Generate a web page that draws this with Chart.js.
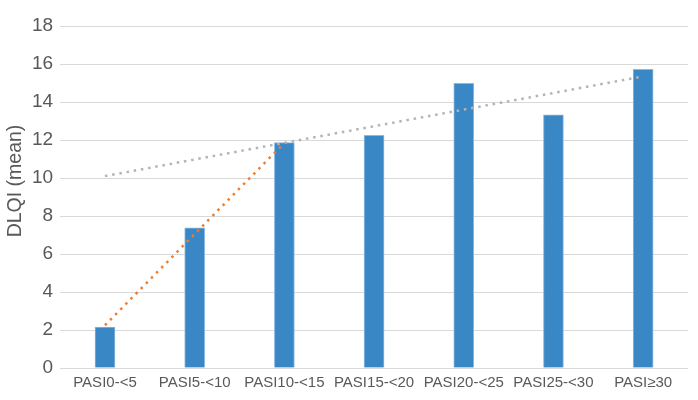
<!DOCTYPE html>
<html>
<head>
<meta charset="utf-8">
<script src="https://cdn.jsdelivr.net/npm/chart.js@4.4.0/dist/chart.umd.min.js"></script>
<style>
  html, body { margin: 0; padding: 0; background: #fff; }
  #wrap { width: 698px; height: 400px; }
</style>
</head>
<body>
<div id="wrap"><canvas id="chart" width="698" height="400"></canvas></div>
<script>
// values
const categories = ['PASI0-<5', 'PASI5-<10', 'PASI10-<15', 'PASI15-<20', 'PASI20-<25', 'PASI25-<30', 'PASI\u226530'];
const dlqiMean = [2.15, 7.38, 11.86, 12.25, 14.98, 13.32, 15.72];
// trend lines: only end points, gaps spanned
const trendLow = [2.25, null, 11.85, null, null, null, null];
const trendAll = [10.1, null, null, null, null, null, 15.35];
const yTicks = [0, 2, 4, 6, 8, 10, 12, 14, 16, 18];
const yTitle = 'DLQI (mean)';

const textColor = '#595959';
const gridColor = '#D9D9D9';

// y title sits a bit above the plot centre in the original, so draw it by hand
const yTitlePlugin = {
    id: 'yTitle',
    afterDraw(chart) {
        const ctx = chart.ctx;
        ctx.save();
        ctx.translate(15.5, 181);
        ctx.rotate(-Math.PI / 2);
        ctx.font = '19.5px "Liberation Sans"';
        ctx.fillStyle = textColor;
        ctx.textAlign = 'center';
        ctx.textBaseline = 'middle';
        ctx.fillText(yTitle, 0, 0);
        ctx.restore();
    }
};

new Chart(document.getElementById('chart').getContext('2d'), {
    type: 'bar',
    data: {
        labels: categories,
        datasets: [
            {
                type: 'line',
                data: trendLow,
                borderColor: '#ED7D31',
                borderWidth: 2.5,
                borderDash: [2.5, 4.8],
                pointRadius: 0,
                spanGaps: true,
                fill: false,
                order: 1
            },
            {
                type: 'line',
                data: trendAll,
                borderColor: '#B4B4B4',
                borderWidth: 2.5,
                borderDash: [2.5, 4.8],
                pointRadius: 0,
                spanGaps: true,
                fill: false,
                order: 1
            },
            {
                label: yTitle,
                data: dlqiMean,
                backgroundColor: '#3A87C5',
                borderColor: '#8DB9E1',
                borderWidth: 1,
                barThickness: 20,
                order: 2
            }
        ]
    },
    options: {
        responsive: false,
        animation: false,
        layout: { padding: { top: 26, right: 10, left: 25, bottom: 2 } },
        plugins: {
            legend: { display: false },
            tooltip: { enabled: false }
        },
        scales: {
            x: {
                grid: { display: false, drawTicks: false },
                border: { display: false },
                ticks: {
                    color: textColor,
                    font: { family: 'Liberation Sans', size: 15 },
                    maxRotation: 0,
                    autoSkip: false,
                    padding: 6
                }
            },
            y: {
                min: 0,
                max: 18,
                afterBuildTicks: axis => { axis.ticks = yTicks.map(v => ({ value: v })); },
                grid: { color: gridColor, lineWidth: 1, drawTicks: false },
                border: { display: false },
                ticks: {
                    color: textColor,
                    font: { family: 'Liberation Sans', size: 19 },
                    padding: 7
                }
            }
        }
    },
    plugins: [yTitlePlugin]
});
</script>
</body>
</html>
